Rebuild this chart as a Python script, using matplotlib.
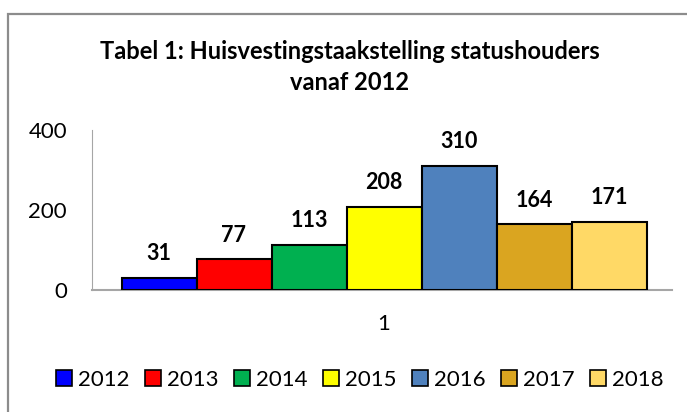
import matplotlib.pyplot as plt
from matplotlib.patches import Rectangle, Patch

# data
years = ["2012", "2013", "2014", "2015", "2016", "2017", "2018"]
values = [31, 77, 113, 208, 310, 164, 171]
colors = ["#0000FF", "#FF0000", "#00B050", "#FFFF00", "#4F81BD", "#DAA520", "#FFD966"]
category = "1"
title = "Tabel 1: Huisvestingstaakstelling statushouders\nvanaf 2012"

plt.rcParams["font.family"] = ["Lato", "DejaVu Sans"]

fig = plt.figure(figsize=(6.87, 4.12), dpi=100)

# chart area border (only top and left edge visible in the crop)
fig.patches.append(Rectangle((8 / 687, -0.2), 1.2, 1 - 14 / 412 + 0.2,
                             transform=fig.transFigure, fill=False,
                             edgecolor="#8C8C8C", lw=1.6))

ax = fig.add_axes([92 / 687, 1 - 290 / 412, 580 / 687, 160 / 412])

w = 75 / 580
for i, (yr, v, c) in enumerate(zip(years, values, colors)):
    x = (i - 3) * w
    ax.bar(x, v, width=w, color=c, edgecolor="black", lw=1.5, label=yr, zorder=3)
    ax.text(x, v + 34, str(v), ha="center", va="bottom",
            fontsize=15.5, fontweight="bold")

ax.set_xlim(-0.5 - 2 / 580, 0.5 - 2 / 580)
ax.set_ylim(0, 400)
ax.set_yticks([0, 200, 400])
ax.set_xticks([0])
ax.set_xticklabels([category])
ax.tick_params(axis="both", length=0, labelsize=16)
ax.tick_params(axis="y", pad=18)
ax.tick_params(axis="x", pad=17)

for s in ["top", "right"]:
    ax.spines[s].set_visible(False)
ax.spines["left"].set_color("#A6A6A6")
ax.spines["bottom"].set_color("#A6A6A6")
ax.spines["bottom"].set_linewidth(1.5)

fig.text(350 / 687, 1 - 67 / 412, title, ha="center", va="center",
         fontsize=17, fontweight="bold", linespacing=1.4)

handles = [Patch(facecolor=c, edgecolor="black", lw=1.2, label=y)
           for y, c in zip(years, colors)]
fig.legend(handles=handles, loc="center", bbox_to_anchor=(360 / 687, 1 - 380 / 412),
           ncol=7, frameon=False, fontsize=16, handlelength=0.72, handleheight=0.72,
           handletextpad=0.27, columnspacing=0.7, borderaxespad=0, borderpad=0)

fig.savefig("out.png", dpi=100)
